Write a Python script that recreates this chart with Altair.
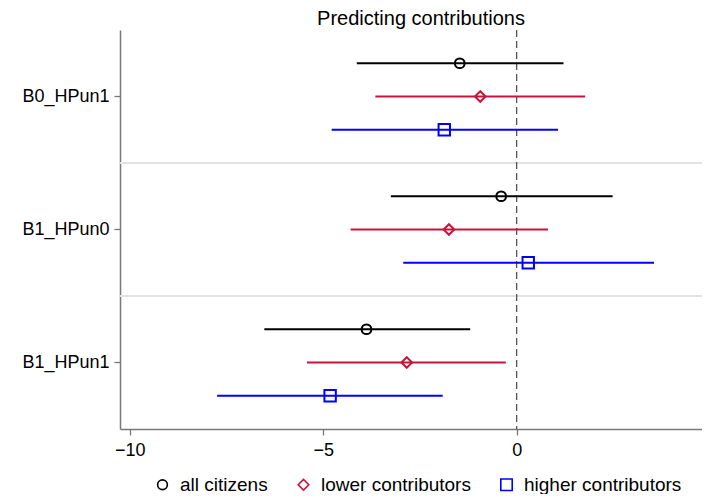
import altair as alt
import pandas as pd

categories = ["B0_HPun1", "B1_HPun0", "B1_HPun1"]
series = ["all citizens", "lower contributors", "higher contributors"]
colors = ["#000000", "#C8143C", "#0000FF"]
shapes = ["circle", "diamond", "square"]
marker_sizes = [95, 130, 100]

# estimates per series, in category order
est_all = [-1.47, -0.40, -3.88]
low_all = [-4.13, -3.25, -6.52]
high_all = [1.21, 2.48, -1.20]

est_lower = [-0.94, -1.75, -2.84]
low_lower = [-3.65, -4.29, -5.42]
high_lower = [1.77, 0.81, -0.28]

est_higher = [-1.87, 0.30, -4.82]
low_higher = [-4.78, -2.93, -7.74]
high_higher = [1.07, 3.55, -1.91]

x_ticks = [-10, -5, 0, 5]

rows = []
for s, est, lo, hi in [
    (series[0], est_all, low_all, high_all),
    (series[1], est_lower, low_lower, high_lower),
    (series[2], est_higher, low_higher, high_higher),
]:
    for c, e, l, h in zip(categories, est, lo, hi):
        rows.append({"cat": c, "series": s, "est": e, "low": l, "high": h})
df = pd.DataFrame(rows)

FONT = "Liberation Sans"

yscale = alt.Scale(domain=categories, paddingInner=0, paddingOuter=0)
xscale = alt.Scale(domain=[-10.25, 4.79], nice=False, zero=False)

yaxis = alt.Axis(title=None, labelFontSize=18, labelFont=FONT, labelColor="#000",
                 tickSize=6, tickColor="#777", domainColor="#777", tickWidth=1.3,
                 domainWidth=1.5, labelPadding=5, grid=False)
xaxis = alt.Axis(title=None, values=x_ticks, labelFontSize=18, labelFont=FONT,
                 labelColor="#000", tickSize=6, tickColor="#777", tickWidth=1.3,
                 domainColor="#777", domainWidth=1.5, labelPadding=6,
                 grid=False, labelFlush=False)

yoff = alt.YOffset("series:N", sort=series,
                   scale=alt.Scale(domain=series, paddingInner=0, paddingOuter=0.5))
color = alt.Color("series:N", sort=series,
                  scale=alt.Scale(domain=series, range=colors),
                  legend=alt.Legend(title=None, orient="none", direction="horizontal",
                                    legendX=33, legendY=445, labelFontSize=19,
                                    labelFont=FONT, labelColor="#000", symbolSize=70,
                                    symbolStrokeWidth=1.6, columnPadding=26,
                                    labelOffset=8))

sep = alt.Chart(pd.DataFrame({"cat": categories[1:]})).mark_rule(
    color="#e3e3e3", strokeWidth=2
).encode(y=alt.Y("cat:N", scale=yscale, bandPosition=0, axis=yaxis))

zero = alt.Chart(pd.DataFrame({"z": [0]})).mark_rule(
    color="#555555", strokeDash=[7, 4], strokeWidth=1.3
).encode(x=alt.X("z:Q", scale=xscale, axis=xaxis))

bars = alt.Chart(df).mark_rule(strokeWidth=2).encode(
    y=alt.Y("cat:N", scale=yscale, sort=categories, axis=yaxis),
    yOffset=yoff,
    x=alt.X("low:Q", scale=xscale, axis=xaxis),
    x2="high:Q",
    color=color,
)

pts = alt.Chart(df).mark_point(filled=False, strokeWidth=2, opacity=1).encode(
    y=alt.Y("cat:N", scale=yscale, sort=categories, axis=yaxis),
    yOffset=yoff,
    x=alt.X("est:Q", scale=xscale, axis=xaxis),
    color=color,
    shape=alt.Shape("series:N", sort=series,
                    scale=alt.Scale(domain=series, range=shapes), legend=None),
    size=alt.Size("series:N", sort=series,
                  scale=alt.Scale(domain=series, range=marker_sizes), legend=None),
)

chart = alt.layer(sep, zero, bars, pts).properties(
    width=582,
    height=399,
    autosize=alt.AutoSizeParams(type="none"),
    padding={"left": 112, "top": 22, "right": 0, "bottom": 65},
    background="white",
    title=alt.Title("Predicting contributions", fontSize=20, font=FONT,
                    fontWeight="normal", color="#000", offset=0, dx=10),
).configure_view(stroke=None)

chart.save("out.html", embed_options={"renderer": "svg", "actions": False})
